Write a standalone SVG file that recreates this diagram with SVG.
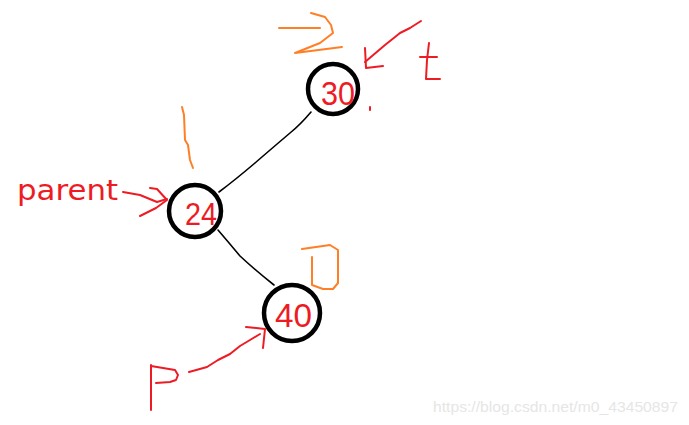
<svg xmlns="http://www.w3.org/2000/svg" width="689" height="425" viewBox="0 0 689 425">
<style>
.node{fill:none;stroke:#000;stroke-width:4.5}
.num{font-family:"Liberation Sans",Arial,sans-serif;font-size:34px;fill:#ed1c24;text-anchor:middle}
.edge{fill:none;stroke:#000;stroke-width:1.6;stroke-linecap:round;stroke-linejoin:round}
.red{fill:none;stroke:#ed1c24;stroke-width:2;stroke-linecap:round;stroke-linejoin:round}
.org{fill:none;stroke:#ff7f27;stroke-width:2;stroke-linecap:round;stroke-linejoin:round}
.lbl{font-family:"DejaVu Sans","Liberation Sans",sans-serif;font-size:29px;fill:#ed1c24}
.wm{font-family:"Liberation Sans",Arial,sans-serif;font-size:15.5px;fill:#e6e6e6}
</style>
<rect width="689" height="425" fill="#fff"/>
<g id="connectors">
<path class="edge" d="M311,112 Q300,125 290,133 Q270,150 255,163 Q235,180 219,192"/>
<path class="edge" d="M218,230 Q230,244 240,256 Q255,270 274,285"/>
</g>
<g id="node-30">
<circle class="node" cx="333" cy="89" r="25"/>
<text class="num" x="338" y="105" textLength="34" lengthAdjust="spacingAndGlyphs">30</text>
</g>
<g id="node-24">
<circle class="node" cx="195" cy="211" r="26"/>
<text class="num" x="201" y="225" textLength="32" lengthAdjust="spacingAndGlyphs" style="font-size:32px">24</text>
</g>
<g id="node-40">
<circle class="node" cx="292" cy="313" r="28"/>
<text class="num" x="293.5" y="327" textLength="37" lengthAdjust="spacingAndGlyphs">40</text>
</g>
<g id="annotations">
<path class="org" d="M279,28 L320,28"/>
<path class="org" d="M311,13 L325,17 L331,25 L333,33 L320,43 L295,53 L342,47"/>
<path class="red" d="M421,21 L410,28 L400,33 L385,45 L365,62"/>
<path class="red" d="M365,48 L366,68 L383,66"/>
<path class="red" d="M429,43 L427,60 L426,79 L440,79"/>
<path class="red" d="M420,57 L437,57"/>
<path class="red" d="M370,107 L370,110"/>
<path class="org" d="M182,107 L184,115 L185,140 L188,145 L190,160 L193,168"/>
<text class="lbl" x="17" y="200" textLength="101" lengthAdjust="spacingAndGlyphs">parent</text>
<path class="red" d="M123,192 L140,195 L157,202 L167,199"/>
<path class="red" d="M150,188 L157,189 L167,200 L156,208 L140,216"/>
<path class="org" d="M302,249 L330,245 L338,250 L338,283 L333,289 L323,289 L312,285 L312,257"/>
<path class="red" d="M189,372 L207,367 L218,360 L230,354 L240,346 L250,340 L260,334"/>
<path class="red" d="M246,327 L265,329 L263,348"/>
<path class="red" d="M151,365 L151,410"/>
<path class="red" d="M151,366 L175,370 L178,375 L176,380 L170,382 L156,383"/>
<text class="wm" x="433" y="412" textLength="245" lengthAdjust="spacingAndGlyphs">https://blog.csdn.net/m0_43450897</text>
</g>
</svg>
